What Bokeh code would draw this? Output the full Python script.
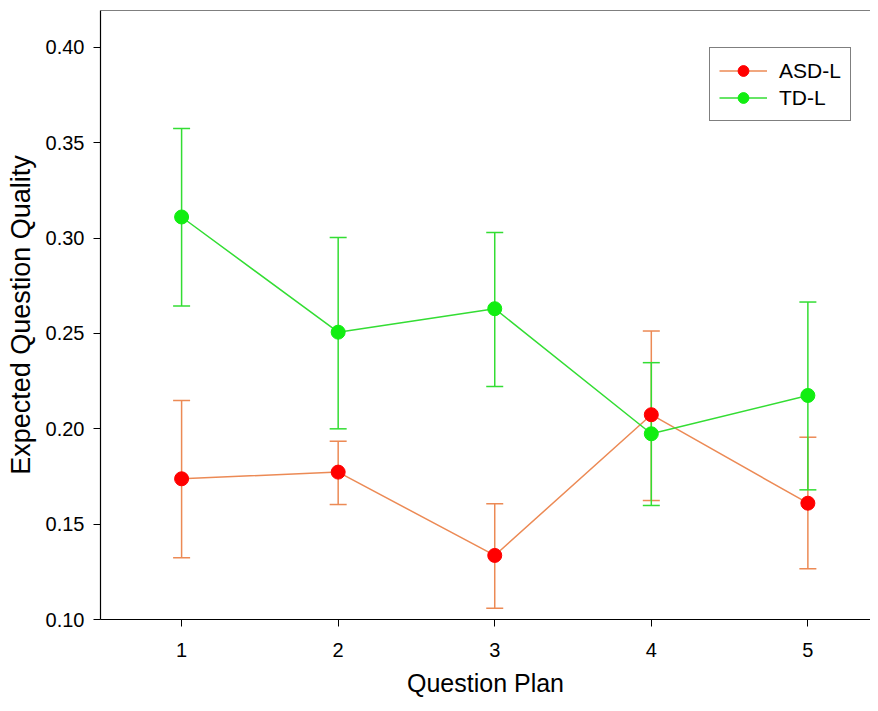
from bokeh.plotting import figure
from bokeh.models import ColumnDataSource, Whisker, TeeHead, NumeralTickFormatter, FixedTicker, Span, Range1d
from bokeh.embed import file_html
from bokeh.resources import INLINE

plans = [1, 2, 3, 4, 5]
asd_mean = [0.1738, 0.1773, 0.1336, 0.2074, 0.1610]
asd_upper = [0.2149, 0.1935, 0.1607, 0.2513, 0.1956]
asd_lower = [0.1324, 0.1603, 0.1059, 0.1624, 0.1266]
td_mean = [0.3111, 0.2507, 0.2630, 0.1974, 0.2175]
td_upper = [0.3575, 0.3003, 0.3030, 0.2347, 0.2665]
td_lower = [0.2644, 0.2000, 0.2222, 0.1598, 0.1680]
y_ticks = [0.10, 0.15, 0.20, 0.25, 0.30, 0.35, 0.40]
x_ticks = [1, 2, 3, 4, 5]

FONT = "Liberation Sans"
ORANGE = "#EC8A55"
RED = "#FF0000"
GREEN_LINE = "#33DD33"
GREEN_PT = "#11EE11"

p = figure(width=870, height=703, output_backend="svg", toolbar_location=None,
           x_range=Range1d(0.482, 5.40), y_range=Range1d(0.10, 0.4194),
           min_border_left=100, min_border_top=10, min_border_right=0, min_border_bottom=84)
p.outline_line_color = None
p.grid.visible = False
p.background_fill_color = "white"

asd = ColumnDataSource(dict(x=plans, y=asd_mean, up=asd_upper, lo=asd_lower))
td = ColumnDataSource(dict(x=plans, y=td_mean, up=td_upper, lo=td_lower))

for src, col in ((asd, ORANGE), (td, GREEN_LINE)):
    w = Whisker(source=src, base="x", upper="up", lower="lo", line_color=col, line_width=1.5,
                upper_head=TeeHead(size=17, line_color=col, line_width=1.5),
                lower_head=TeeHead(size=17, line_color=col, line_width=1.5))
    p.add_layout(w)

p.line("x", "y", source=asd, line_color=ORANGE, line_width=1.5, legend_label="ASD-L")
p.scatter("x", "y", source=asd, size=14, fill_color=RED, line_color=RED, legend_label="ASD-L")
p.line("x", "y", source=td, line_color=GREEN_LINE, line_width=1.5, legend_label="TD-L")
p.scatter("x", "y", source=td, size=14, fill_color=GREEN_PT, line_color=GREEN_PT, legend_label="TD-L")

p.add_layout(Span(location=0.4194, dimension="width", line_color="black", line_width=1.2))

p.xaxis.ticker = FixedTicker(ticks=x_ticks)
p.yaxis.ticker = FixedTicker(ticks=y_ticks)
p.yaxis.formatter = NumeralTickFormatter(format="0.00")
for ax in (p.xaxis, p.yaxis):
    ax.axis_line_color = "black"
    ax.axis_line_width = 1.2
    ax.major_tick_line_color = "black"
    ax.major_tick_in = 0
    ax.major_tick_out = 7
    ax.minor_tick_line_color = None
    ax.major_label_text_font = FONT
    ax.major_label_text_color = "black"
    ax.major_label_text_font_size = "20px"
    ax.axis_label_text_font = FONT
    ax.axis_label_text_font_style = "normal"
    ax.axis_label_text_color = "black"

p.xaxis.axis_label = "Question Plan"
p.yaxis.axis_label = "Expected Question Quality"
p.xaxis.axis_label_text_font_size = "25px"
p.yaxis.axis_label_text_font_size = "27px"
p.xaxis.major_label_standoff = 16
p.yaxis.major_label_standoff = 9
p.xaxis.axis_label_standoff = 9
p.yaxis.axis_label_standoff = 7

leg = p.legend[0]
leg.location = (609, 498)
leg.border_line_color = "black"
leg.border_line_width = 1.2
leg.label_text_font = FONT
leg.label_text_font_size = "21px"
leg.label_text_color = "black"
leg.glyph_width = 48
leg.glyph_height = 27
leg.label_height = 27
leg.spacing = 0
leg.padding = 9
leg.margin = 0
leg.label_standoff = 12
leg.background_fill_alpha = 1

open("out.html", "w").write(file_html(p, INLINE))
